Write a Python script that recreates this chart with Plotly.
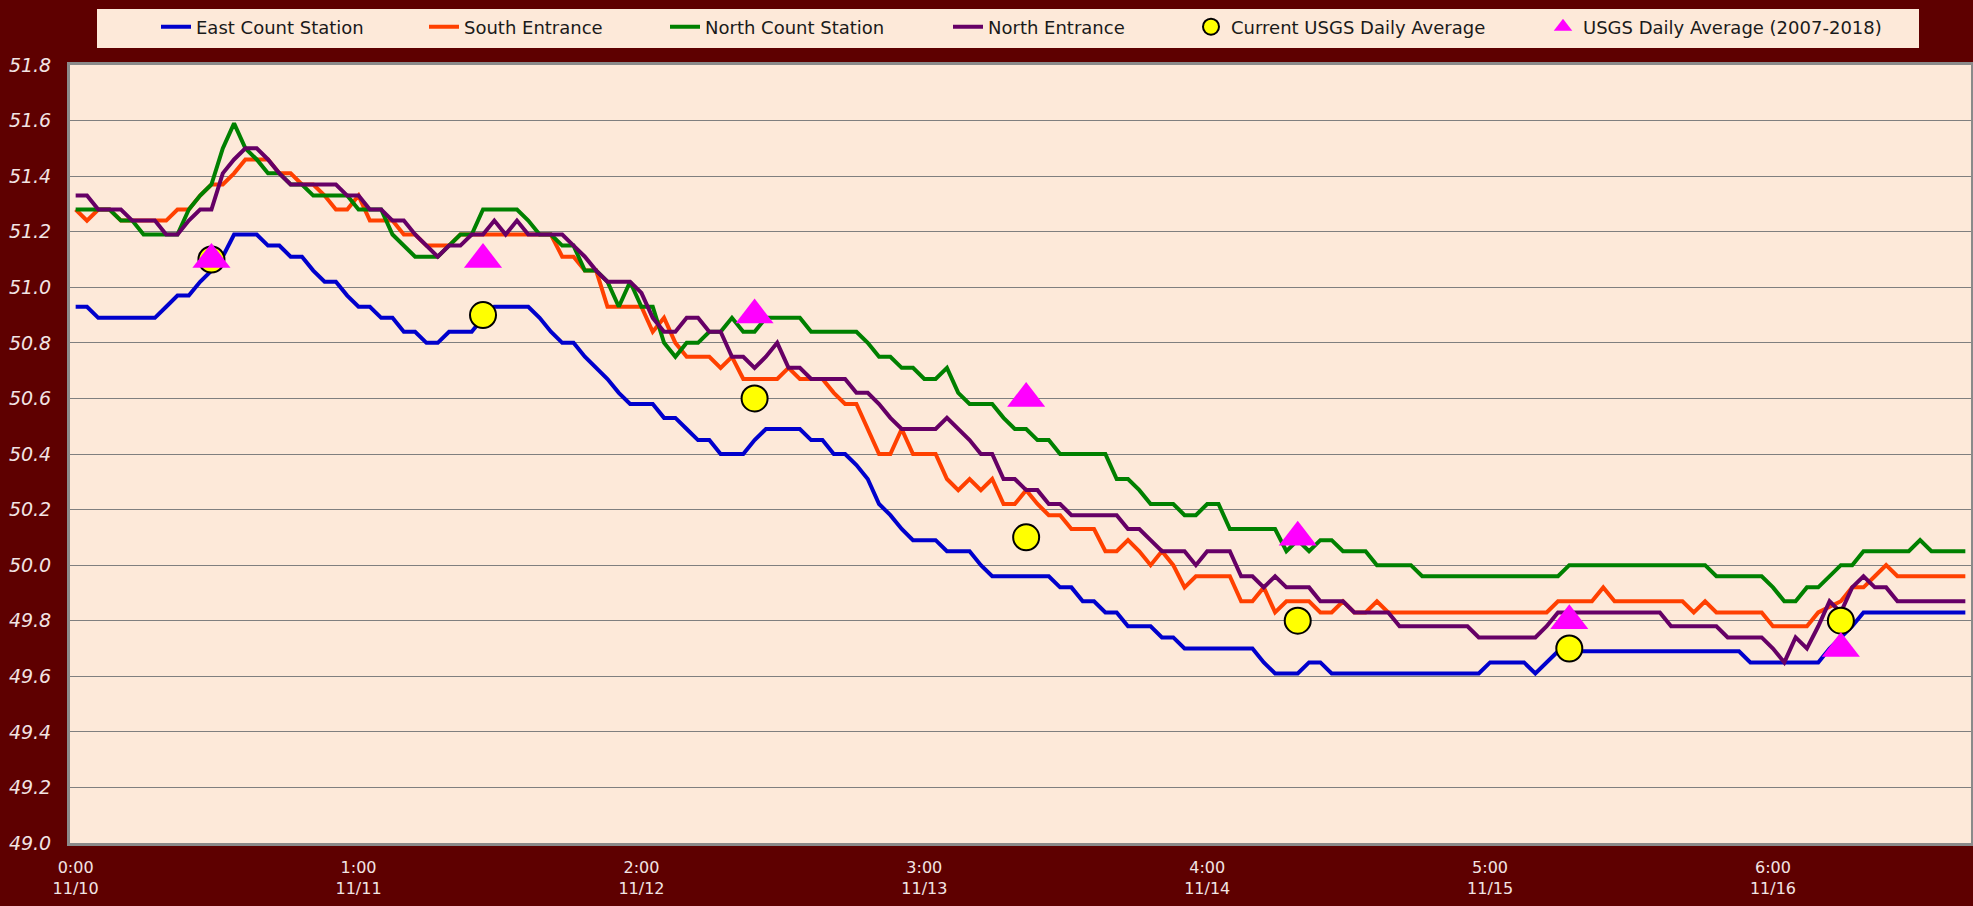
import pandas as pd
import plotly.graph_objects as go

# ---------------- data (hourly, 11/10 00:00 .. 11/16 23:00) ----------------
times = [t.strftime("%m/%d %H:%M") for t in pd.date_range("2018-11-10 00:00", periods=168, freq="h")]

east_count = [
    50.93, 50.93, 50.89, 50.89, 50.89, 50.89, 50.89, 50.89, 50.93, 50.97,
    50.97, 51.02, 51.06, 51.11, 51.19, 51.19, 51.19, 51.15, 51.15, 51.11,
    51.11, 51.06, 51.02, 51.02, 50.97, 50.93, 50.93, 50.89, 50.89, 50.84,
    50.84, 50.80, 50.80, 50.84, 50.84, 50.84, 50.89, 50.93, 50.93, 50.93,
    50.93, 50.89, 50.84, 50.80, 50.80, 50.75, 50.71, 50.67, 50.62, 50.58,
    50.58, 50.58, 50.53, 50.53, 50.49, 50.45, 50.45, 50.40, 50.40, 50.40,
    50.45, 50.49, 50.49, 50.49, 50.49, 50.45, 50.45, 50.40, 50.40, 50.36,
    50.31, 50.22, 50.18, 50.13, 50.09, 50.09, 50.09, 50.05, 50.05, 50.05,
    50.00, 49.96, 49.96, 49.96, 49.96, 49.96, 49.96, 49.92, 49.92, 49.87,
    49.87, 49.83, 49.83, 49.78, 49.78, 49.78, 49.74, 49.74, 49.70, 49.70,
    49.70, 49.70, 49.70, 49.70, 49.70, 49.65, 49.61, 49.61, 49.61, 49.65,
    49.65, 49.61, 49.61, 49.61, 49.61, 49.61, 49.61, 49.61, 49.61, 49.61,
    49.61, 49.61, 49.61, 49.61, 49.61, 49.65, 49.65, 49.65, 49.65, 49.61,
    49.65, 49.69, 49.69, 49.69, 49.69, 49.69, 49.69, 49.69, 49.69, 49.69,
    49.69, 49.69, 49.69, 49.69, 49.69, 49.69, 49.69, 49.69, 49.65, 49.65,
    49.65, 49.65, 49.65, 49.65, 49.65, 49.70, 49.74, 49.78, 49.83, 49.83,
    49.83, 49.83, 49.83, 49.83, 49.83, 49.83, 49.83, 49.83,
]

south_entrance = [
    51.28, 51.24, 51.28, 51.28, 51.24, 51.24, 51.24, 51.24, 51.24, 51.28,
    51.28, 51.33, 51.37, 51.37, 51.41, 51.46, 51.46, 51.46, 51.41, 51.41,
    51.37, 51.37, 51.33, 51.28, 51.28, 51.33, 51.24, 51.24, 51.24, 51.19,
    51.19, 51.15, 51.15, 51.15, 51.19, 51.19, 51.19, 51.19, 51.19, 51.19,
    51.19, 51.19, 51.19, 51.11, 51.11, 51.06, 51.06, 50.93, 50.93, 50.93,
    50.93, 50.84, 50.89, 50.80, 50.75, 50.75, 50.75, 50.71, 50.75, 50.67,
    50.67, 50.67, 50.67, 50.71, 50.67, 50.67, 50.67, 50.62, 50.58, 50.58,
    50.49, 50.40, 50.40, 50.49, 50.40, 50.40, 50.40, 50.31, 50.27, 50.31,
    50.27, 50.31, 50.22, 50.22, 50.27, 50.22, 50.18, 50.18, 50.13, 50.13,
    50.13, 50.05, 50.05, 50.09, 50.05, 50.00, 50.05, 50.00, 49.92, 49.96,
    49.96, 49.96, 49.96, 49.87, 49.87, 49.92, 49.83, 49.87, 49.87, 49.87,
    49.83, 49.83, 49.87, 49.83, 49.83, 49.87, 49.83, 49.83, 49.83, 49.83,
    49.83, 49.83, 49.83, 49.83, 49.83, 49.83, 49.83, 49.83, 49.83, 49.83,
    49.83, 49.87, 49.87, 49.87, 49.87, 49.92, 49.87, 49.87, 49.87, 49.87,
    49.87, 49.87, 49.87, 49.83, 49.87, 49.83, 49.83, 49.83, 49.83, 49.83,
    49.78, 49.78, 49.78, 49.78, 49.83, 49.85, 49.87, 49.92, 49.92, 49.96,
    50.00, 49.96, 49.96, 49.96, 49.96, 49.96, 49.96, 49.96,
]

north_count = [
    51.28, 51.28, 51.28, 51.28, 51.24, 51.24, 51.19, 51.19, 51.19, 51.19,
    51.28, 51.33, 51.37, 51.50, 51.59, 51.50, 51.46, 51.41, 51.41, 51.37,
    51.37, 51.33, 51.33, 51.33, 51.33, 51.28, 51.28, 51.28, 51.19, 51.15,
    51.11, 51.11, 51.11, 51.15, 51.19, 51.19, 51.28, 51.28, 51.28, 51.28,
    51.24, 51.19, 51.19, 51.15, 51.15, 51.06, 51.06, 51.02, 50.93, 51.02,
    50.93, 50.93, 50.80, 50.75, 50.80, 50.80, 50.84, 50.84, 50.89, 50.84,
    50.84, 50.89, 50.89, 50.89, 50.89, 50.84, 50.84, 50.84, 50.84, 50.84,
    50.80, 50.75, 50.75, 50.71, 50.71, 50.67, 50.67, 50.71, 50.62, 50.58,
    50.58, 50.58, 50.53, 50.49, 50.49, 50.45, 50.45, 50.40, 50.40, 50.40,
    50.40, 50.40, 50.31, 50.31, 50.27, 50.22, 50.22, 50.22, 50.18, 50.18,
    50.22, 50.22, 50.13, 50.13, 50.13, 50.13, 50.13, 50.05, 50.09, 50.05,
    50.09, 50.09, 50.05, 50.05, 50.05, 50.00, 50.00, 50.00, 50.00, 49.96,
    49.96, 49.96, 49.96, 49.96, 49.96, 49.96, 49.96, 49.96, 49.96, 49.96,
    49.96, 49.96, 50.00, 50.00, 50.00, 50.00, 50.00, 50.00, 50.00, 50.00,
    50.00, 50.00, 50.00, 50.00, 50.00, 49.96, 49.96, 49.96, 49.96, 49.96,
    49.92, 49.87, 49.87, 49.92, 49.92, 49.96, 50.00, 50.00, 50.05, 50.05,
    50.05, 50.05, 50.05, 50.09, 50.05, 50.05, 50.05, 50.05,
]

north_entrance = [
    51.33, 51.33, 51.28, 51.28, 51.28, 51.24, 51.24, 51.24, 51.19, 51.19,
    51.24, 51.28, 51.28, 51.41, 51.46, 51.50, 51.50, 51.46, 51.41, 51.37,
    51.37, 51.37, 51.37, 51.37, 51.33, 51.33, 51.28, 51.28, 51.24, 51.24,
    51.19, 51.15, 51.11, 51.15, 51.15, 51.19, 51.19, 51.24, 51.19, 51.24,
    51.19, 51.19, 51.19, 51.19, 51.15, 51.11, 51.06, 51.02, 51.02, 51.02,
    50.98, 50.89, 50.84, 50.84, 50.89, 50.89, 50.84, 50.84, 50.75, 50.75,
    50.71, 50.75, 50.80, 50.71, 50.71, 50.67, 50.67, 50.67, 50.67, 50.62,
    50.62, 50.58, 50.53, 50.49, 50.49, 50.49, 50.49, 50.53, 50.49, 50.45,
    50.40, 50.40, 50.31, 50.31, 50.27, 50.27, 50.22, 50.22, 50.18, 50.18,
    50.18, 50.18, 50.18, 50.13, 50.13, 50.09, 50.05, 50.05, 50.05, 50.00,
    50.05, 50.05, 50.05, 49.96, 49.96, 49.92, 49.96, 49.92, 49.92, 49.92,
    49.87, 49.87, 49.87, 49.83, 49.83, 49.83, 49.83, 49.78, 49.78, 49.78,
    49.78, 49.78, 49.78, 49.78, 49.74, 49.74, 49.74, 49.74, 49.74, 49.74,
    49.78, 49.83, 49.83, 49.83, 49.83, 49.83, 49.83, 49.83, 49.83, 49.83,
    49.83, 49.78, 49.78, 49.78, 49.78, 49.78, 49.74, 49.74, 49.74, 49.74,
    49.70, 49.65, 49.74, 49.70, 49.78, 49.87, 49.83, 49.92, 49.96, 49.92,
    49.92, 49.87, 49.87, 49.87, 49.87, 49.87, 49.87, 49.87,
]

# daily values plotted at noon of each day
daily_times = times[12::24]
usgs_current = [51.1, 50.9, 50.6, 50.1, 49.8, 49.7, 49.8]
usgs_average = [51.1, 51.1, 50.9, 50.6, 50.1, 49.8, 49.7]

# category-axis labels every 25 hours (as in the original)
tick_index = list(range(0, 168, 25))
tick_stamps = pd.date_range("2018-11-10 00:00", periods=168, freq="h")
tickvals = [times[i] for i in tick_index]
ticktext = [f"{tick_stamps[i].hour}:{tick_stamps[i].minute:02d}<br>{tick_stamps[i].month}/{tick_stamps[i].day}"
            for i in tick_index]

y_ticks = [round(49.0 + 0.2 * k, 1) for k in range(15)]

# ---------------- figure ----------------
W, H = 1973, 906
ML, MR, MT, MB = 70, 2, 65, 63
PW, PH = W - ML - MR, H - MT - MB

def px_x(p):
    return (p - ML) / PW

def px_y(p):
    return (H - MB - p) / PH

BG = "#5E0000"
PLOT_BG = "#FDE9D9"
TXT = "#F2E4E4"

fig = go.Figure()

series = [
    ("East Count Station", east_count, "#0000CC", "legend"),
    ("South Entrance", south_entrance, "#FF4000", "legend2"),
    ("North Count Station", north_count, "#008000", "legend3"),
    ("North Entrance", north_entrance, "#660066", "legend4"),
]
for name, vals, col, lg in series:
    fig.add_trace(go.Scatter(x=times, y=vals, mode="lines", name=name,
                             line=dict(color=col, width=4), legend=lg))

fig.add_trace(go.Scatter(x=daily_times, y=usgs_current, mode="markers",
                         name="Current USGS Daily Average", legend="legend5",
                         marker=dict(symbol="circle", size=26, color="#FFFF00",
                                     line=dict(color="#000000", width=2))))
fig.add_trace(go.Scatter(x=daily_times, y=usgs_average, mode="markers",
                         name="USGS Daily Average (2007-2018)", legend="legend6",
                         marker=dict(symbol="triangle-up", size=33, color="#FF00FF",
                                     line=dict(width=0))))

legend_font = dict(family="DejaVu Sans", size=18, color="#1A1A1A")
text_starts = [198, 466, 707, 990, 1233, 1585]
legend_names = ["legend", "legend2", "legend3", "legend4", "legend5", "legend6"]
layout_legends = {}
for lg, ts in zip(legend_names, text_starts):
    layout_legends[lg] = dict(x=px_x(ts - 42), xanchor="left", y=px_y(27), yanchor="middle",
                              orientation="h", bgcolor="rgba(0,0,0,0)", borderwidth=0,
                              font=legend_font, itemsizing="trace")

fig.update_layout(
    width=W, height=H,
    margin=dict(l=ML, r=MR, t=MT, b=MB, pad=0, autoexpand=False),
    paper_bgcolor=BG, plot_bgcolor=PLOT_BG,
    showlegend=True,
    **layout_legends,
    shapes=[dict(type="rect", xref="paper", yref="paper",
                 x0=px_x(97), x1=px_x(1919), y0=px_y(48), y1=px_y(9),
                 fillcolor=PLOT_BG, line=dict(width=0), layer="below")],
    xaxis=dict(type="category", range=[-0.5, 167.5], tickmode="array",
               tickvals=tickvals, ticktext=ticktext, showgrid=False,
               ticks="", ticklabelstandoff=8,
               tickfont=dict(family="DejaVu Sans", size=16, color=TXT),
               showline=True, linecolor="#8A8A8A", linewidth=3, mirror=True,
               zeroline=False, automargin=False),
    yaxis=dict(range=[49.0, 51.8], tickmode="array", tickvals=y_ticks,
               ticktext=[f"{v:.1f}" for v in y_ticks],
               showgrid=True, gridcolor="#7F7F7F", gridwidth=1,
               ticks="", ticklabelstandoff=12,
               tickfont=dict(family="DejaVu Sans", size=19, color=TXT, style="italic"),
               showline=True, linecolor="#8A8A8A", linewidth=3, mirror=True,
               zeroline=False, automargin=False),
)

fig.write_html("out.html",
               config={"displayModeBar": False},
               post_script="document.body.style.margin='0';document.body.style.overflow='hidden';")
